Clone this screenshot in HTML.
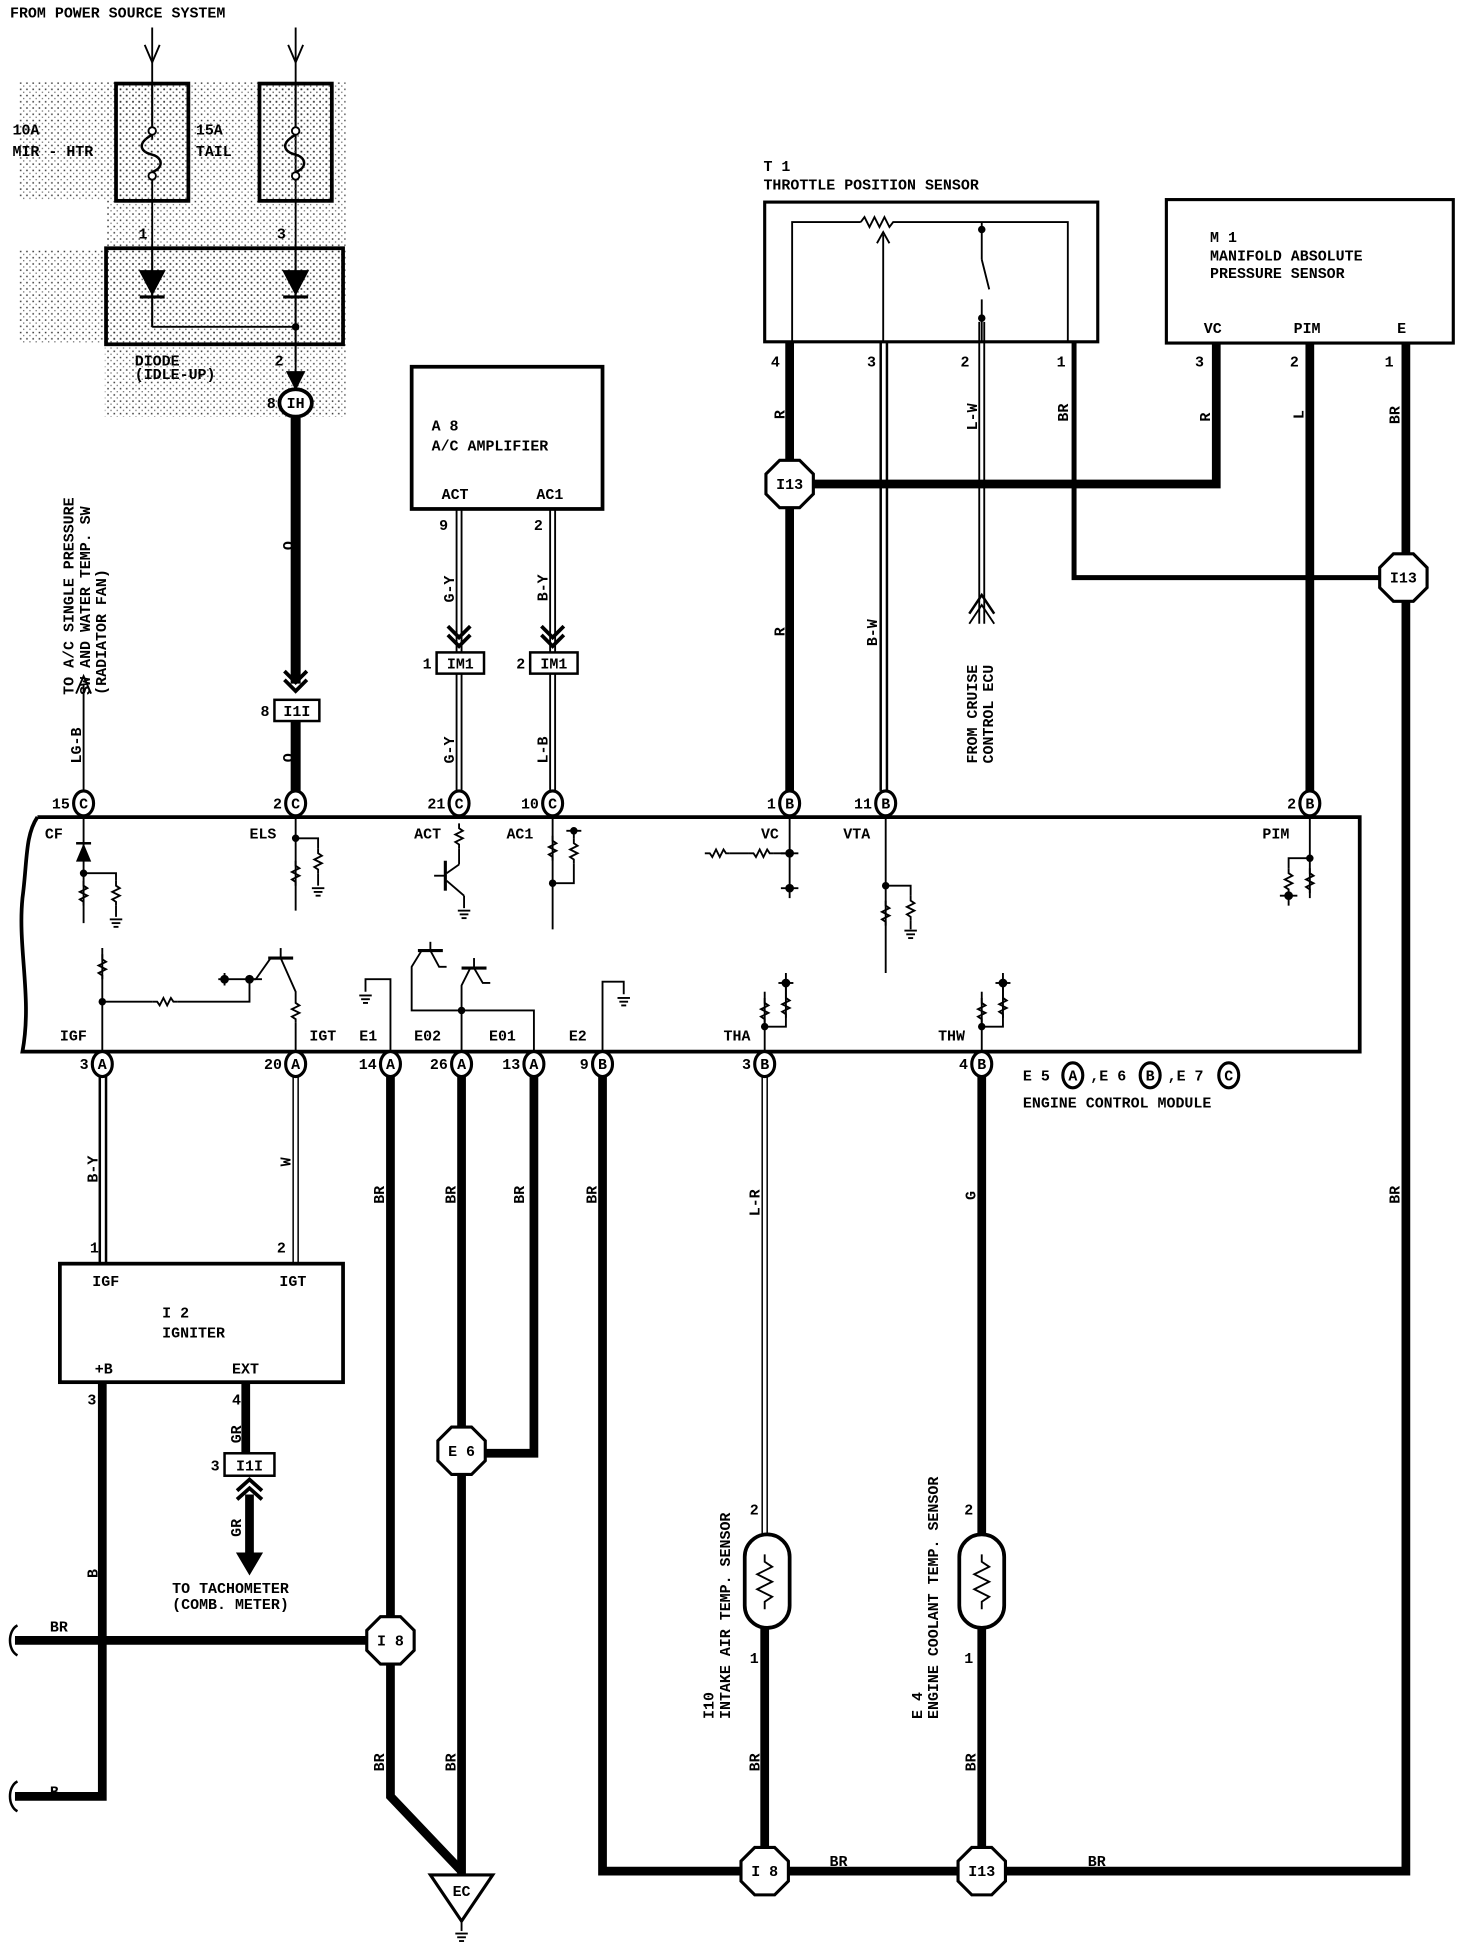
<!DOCTYPE html>
<html><head><meta charset="utf-8"><style>
html,body{margin:0;padding:0;background:#fff}
svg{display:block}
text{font-family:"Liberation Mono","DejaVu Sans Mono",monospace;font-weight:bold;font-size:12px;fill:#000}
</style></head><body>
<svg width="1472" height="1956" viewBox="0 0 1180 1568" xmlns="http://www.w3.org/2000/svg">
<defs>
<pattern id="dots" width="5" height="5" patternUnits="userSpaceOnUse"><rect x="1" y="1" width="1.2" height="1.2" fill="#333"/><rect x="3.5" y="3.5" width="1" height="1" fill="#666"/></pattern>
<path id="rv" d="M0,0 v4 l3,2 l-6,3 l6,3 l-6,3 l3,2 v3" fill="none" stroke="#000" stroke-width="1.5"/>
<path id="rh" d="M0,0 h4 l2,3 l3,-6 l3,6 l3,-6 l2,3 h3" fill="none" stroke="#000" stroke-width="1.5"/>
<g id="gnd" stroke="#000" stroke-width="1.5"><line x1="-5" y1="0" x2="5" y2="0"/><line x1="-3.5" y1="3" x2="3.5" y2="3"/><line x1="-2" y1="6" x2="2" y2="6"/></g>
</defs>
<g fill="none" stroke="#000">
<rect x="15" y="66" width="262" height="268" fill="url(#dots)" stroke="none"/>
<rect x="0" y="160" width="85" height="40" fill="#fff" stroke="none"/>
<rect x="0" y="275" width="84" height="60" fill="#fff" stroke="none"/>
<line x1="122" y1="22" x2="122" y2="112" stroke-width="1.5"/><polyline points="116,36 122,50 128,36" stroke-width="1.5"/>
<line x1="237" y1="22" x2="237" y2="305" stroke-width="1.5"/><polyline points="231,36 237,50 243,36" stroke-width="1.5"/>
<rect x="93" y="67" width="58" height="94" stroke-width="3" fill="url(#dots)"/>
<rect x="208" y="67" width="58" height="94" stroke-width="3" fill="url(#dots)"/>
<line x1="122" y1="67" x2="122" y2="102" stroke-width="1.5"/><line x1="237" y1="67" x2="237" y2="102" stroke-width="1.5"/>
<path d="M122,108 C108,116 114,122 122,124 C130,126 132,134 122,138" stroke-width="2"/>
<path d="M237,108 C223,116 229,122 237,124 C245,126 247,134 237,138" stroke-width="2"/>
<circle cx="122" cy="105" r="3" fill="#fff" stroke-width="1.5"/><circle cx="122" cy="141" r="3" fill="#fff" stroke-width="1.5"/>
<circle cx="237" cy="105" r="3" fill="#fff" stroke-width="1.5"/><circle cx="237" cy="141" r="3" fill="#fff" stroke-width="1.5"/>
<line x1="122" y1="144" x2="122" y2="262" stroke-width="1.5"/>
<rect x="85" y="199" width="190" height="77" stroke-width="3" fill="url(#dots)"/>
<line x1="122" y1="199" x2="122" y2="262" stroke-width="1.5"/><line x1="237" y1="199" x2="237" y2="290" stroke-width="1.5"/>
<polygon points="112,217 132,217 122,236" fill="#000"/><line x1="112" y1="238" x2="132" y2="238" stroke-width="2.5"/>
<polygon points="227,217 247,217 237,236" fill="#000"/><line x1="227" y1="238" x2="247" y2="238" stroke-width="2.5"/>
<polyline points="122,262 237,262" stroke-width="1.5"/><circle cx="237" cy="262" r="2.5" fill="#000"/>
<polygon points="230,298 244,298 237,312" fill="#000"/>
<line x1="237" y1="335" x2="237" y2="548" stroke-width="8"/>
<polyline points="228,538 237,547 246,538" stroke-width="3"/><polyline points="228,545 237,554 246,545" stroke-width="3"/>
<line x1="237" y1="578" x2="237" y2="634" stroke-width="8"/>
<rect x="220" y="561" width="36" height="17" stroke-width="2" fill="#fff"/>
<ellipse cx="237" cy="323" rx="13" ry="11" stroke-width="3" fill="#fff"/>
<line x1="67" y1="634" x2="67" y2="548" stroke-width="1.5"/><polyline points="61,556 67,542 73,556" stroke-width="1.5"/>
<rect x="330" y="294" width="153" height="114" stroke-width="3"/>
<g stroke-width="1.5">
<line x1="366" y1="408" x2="366" y2="523"/><line x1="370" y1="408" x2="370" y2="523"/>
<line x1="366" y1="540" x2="366" y2="634"/><line x1="370" y1="540" x2="370" y2="634"/>
<line x1="441" y1="408" x2="441" y2="523"/><line x1="445" y1="408" x2="445" y2="523"/>
<line x1="441" y1="540" x2="441" y2="634"/><line x1="445" y1="540" x2="445" y2="634"/>
</g>
<polyline points="359,502 368,511 377,502" stroke-width="3"/><polyline points="359,509 368,518 377,509" stroke-width="3"/>
<polyline points="434,502 443,511 452,502" stroke-width="3"/><polyline points="434,509 443,518 452,509" stroke-width="3"/>
<rect x="350" y="523" width="38" height="17" stroke-width="2" fill="#fff"/>
<rect x="425" y="523" width="38" height="17" stroke-width="2" fill="#fff"/>
<rect x="613" y="162" width="267" height="112" stroke-width="2.5"/>
<g stroke-width="1.5">
<polyline points="635,274 635,178 690,178"/>
<path d="M690,178 l3,-4 l4,8 l4,-8 l4,8 l4,-8 l4,8 l3,-4 h140 v96"/>
<line x1="787" y1="178" x2="787" y2="208"/><line x1="787" y1="208" x2="793" y2="232"/><line x1="787" y1="240" x2="787" y2="274"/>
<line x1="708" y1="274" x2="708" y2="188"/><polyline points="703,195 708,186 713,195"/>
</g>
<circle cx="787" cy="184" r="2.5" fill="#000"/><circle cx="787" cy="255" r="2.5" fill="#000"/>
<line x1="633" y1="274" x2="633" y2="634" stroke-width="7"/>
<line x1="706" y1="274" x2="706" y2="634" stroke-width="2"/><line x1="711" y1="274" x2="711" y2="634" stroke-width="2"/>
<line x1="785" y1="258" x2="785" y2="500" stroke-width="1.5"/><line x1="789" y1="258" x2="789" y2="500" stroke-width="1.5"/>
<polyline points="777,492 787,477 797,492" stroke-width="2"/><polyline points="777,500 787,485 797,500" stroke-width="1.5"/>
<polyline points="861,274 861,463 1110,463" stroke-width="4"/>
<polyline points="633,388 975,388 975,275" stroke-width="7"/>
<rect x="935" y="160" width="230" height="115" stroke-width="2.5"/>
<line x1="1050" y1="275" x2="1050" y2="634" stroke-width="7"/>
<polyline points="1127,275 1127,1500 483,1500 483,863" stroke-width="7"/>
<path d="M30,655 H1090 V843 H18 C26,800 14,760 18,720 C22,690 20,670 30,655" stroke-width="3"/>
<g stroke-width="1.5">
<line x1="67" y1="655" x2="67" y2="740"/><polygon points="62,690 72,690 67,678" fill="#000"/><line x1="61" y1="676" x2="73" y2="676" stroke-width="2"/>
<polyline points="67,700 93,700 93,706"/>
<use href="#rv" x="67" y="706"/><use href="#rv" x="93" y="706"/><line x1="93" y1="726" x2="93" y2="735"/><use href="#gnd" x="93" y="737"/>
<line x1="237" y1="655" x2="237" y2="730"/><polyline points="237,672 255,672 255,680"/>
<use href="#rv" x="237" y="690"/><use href="#rv" x="255" y="680"/><line x1="255" y1="700" x2="255" y2="710"/><use href="#gnd" x="255" y="712"/>
<use href="#rv" x="368" y="660"/><line x1="368" y1="680" x2="368" y2="693"/><line x1="368" y1="693" x2="358" y2="700"/>
<line x1="357" y1="690" x2="357" y2="714" stroke-width="2.5"/><line x1="348" y1="702" x2="357" y2="702"/>
<line x1="358" y1="706" x2="372" y2="718"/><line x1="372" y1="718" x2="372" y2="728"/><use href="#gnd" x="372" y="730"/>
<line x1="443" y1="655" x2="443" y2="745"/><use href="#rv" x="443" y="670"/><use href="#rv" x="460" y="672"/>
<line x1="460" y1="665" x2="460" y2="672"/><polyline points="443,708 460,708 460,692"/><line x1="454" y1="666" x2="466" y2="666"/>
<line x1="633" y1="655" x2="633" y2="720"/><use href="#rh" x="565" y="684"/><use href="#rh" x="600" y="684"/><line x1="585" y1="684" x2="600" y2="684"/><line x1="620" y1="684" x2="633" y2="684"/>
<line x1="626" y1="712" x2="640" y2="712"/><line x1="626" y1="684" x2="640" y2="684"/>
<line x1="710" y1="655" x2="710" y2="780"/><polyline points="710,710 730,710 730,718"/>
<use href="#rv" x="710" y="722"/><use href="#rv" x="730" y="718"/><line x1="730" y1="738" x2="730" y2="745"/><use href="#gnd" x="730" y="746"/>
<line x1="1050" y1="655" x2="1050" y2="720"/><polyline points="1050,688 1033,688 1033,696"/>
<use href="#rv" x="1033" y="696"/><use href="#rv" x="1050" y="696"/><line x1="1026" y1="718" x2="1040" y2="718"/><line x1="1033" y1="716" x2="1033" y2="726"/>
<line x1="82" y1="843" x2="82" y2="760"/><use href="#rv" x="82" y="765"/><polyline points="82,803 200,803 200,785"/>
<rect x="122" y="801" width="20" height="4" fill="#fff" stroke="none"/><use href="#rh" x="122" y="803"/>
<line x1="175" y1="785" x2="210" y2="785"/><line x1="180" y1="780" x2="180" y2="790"/><line x1="200" y1="785" x2="205" y2="785"/>
<line x1="205" y1="785" x2="217" y2="768"/><line x1="215" y1="768" x2="235" y2="768" stroke-width="2.5"/><line x1="225" y1="760" x2="225" y2="768"/>
<polyline points="225,768 237,795 237,800"/><use href="#rv" x="237" y="800"/><line x1="237" y1="820" x2="237" y2="843"/>
<polyline points="313,843 313,785 293,785 293,795"/><use href="#gnd" x="293" y="798"/>
<polyline points="370,843 370,810 330,810 330,775 338,762"/><polyline points="370,810 428,810 428,843"/>
<line x1="335" y1="762" x2="355" y2="762" stroke-width="2.5"/><line x1="345" y1="755" x2="345" y2="762"/><polyline points="345,762 352,775 358,775"/>
<polyline points="370,810 370,790 377,776"/><line x1="370" y1="776" x2="390" y2="776" stroke-width="2.5"/><line x1="380" y1="768" x2="380" y2="776"/><polyline points="380,776 387,788 393,788"/>
<polyline points="483,843 483,787 500,787 500,797"/><use href="#gnd" x="500" y="800"/>
<line x1="613" y1="843" x2="613" y2="795"/><polyline points="613,823 630,823 630,790"/><use href="#rv" x="613" y="800"/><use href="#rv" x="630" y="796"/>
<line x1="624" y1="788" x2="636" y2="788"/><line x1="630" y1="780" x2="630" y2="796"/>
<line x1="787" y1="843" x2="787" y2="795"/><polyline points="787,823 804,823 804,790"/><use href="#rv" x="787" y="800"/><use href="#rv" x="804" y="796"/>
<line x1="798" y1="788" x2="810" y2="788"/><line x1="804" y1="780" x2="804" y2="796"/>
</g>
<g fill="#000"><circle cx="67" cy="700" r="2.5"/><circle cx="237" cy="672" r="2.5"/><circle cx="443" cy="708" r="2.5"/><circle cx="460" cy="666" r="2.5"/><circle cx="633" cy="684" r="3"/><circle cx="633" cy="712" r="3"/><circle cx="710" cy="710" r="2.5"/><circle cx="1050" cy="688" r="2.5"/><circle cx="1033" cy="718" r="3"/><circle cx="82" cy="803" r="2.5"/><circle cx="180" cy="785" r="3"/><circle cx="200" cy="785" r="3"/><circle cx="370" cy="810" r="2.5"/><circle cx="613" cy="823" r="2.5"/><circle cx="630" cy="788" r="3"/><circle cx="787" cy="823" r="2.5"/><circle cx="804" cy="788" r="3"/></g>
<line x1="80" y1="863" x2="80" y2="1013" stroke-width="2"/><line x1="85" y1="863" x2="85" y2="1013" stroke-width="2"/>
<line x1="235" y1="863" x2="235" y2="1013" stroke-width="1.2"/><line x1="239" y1="863" x2="239" y2="1013" stroke-width="1.2"/>
<rect x="48" y="1013" width="227" height="95" stroke-width="3"/>
<polyline points="82,1108 82,1440 12,1440" stroke-width="7"/>
<line x1="12" y1="1315" x2="296" y2="1315" stroke-width="7"/>
<path d="M14,1428 C6,1432 6,1448 14,1452" stroke-width="2"/><path d="M14,1303 C6,1307 6,1323 14,1327" stroke-width="2"/>
<line x1="197" y1="1108" x2="197" y2="1165" stroke-width="7"/>
<rect x="180" y="1165" width="40" height="18" stroke-width="2" fill="#fff"/>
<polyline points="190,1195 200,1186 210,1195" stroke-width="3"/><polyline points="190,1202 200,1193 210,1202" stroke-width="3"/>
<line x1="200" y1="1198" x2="200" y2="1248" stroke-width="7"/><polygon points="190,1245 210,1245 200,1262" fill="#000"/>
<polyline points="313,863 313,1440 370,1500" stroke-width="7"/>
<line x1="370" y1="863" x2="370" y2="1503" stroke-width="7"/>
<polyline points="428,863 428,1165 370,1165" stroke-width="7"/>
<polygon points="345,1503 395,1503 370,1540" stroke-width="2.5" fill="#fff"/>
<line x1="370" y1="1540" x2="370" y2="1548" stroke-width="1.5"/><use href="#gnd" x="370" y="1550"/>
<line x1="611" y1="863" x2="611" y2="1230" stroke-width="1.2"/><line x1="615" y1="863" x2="615" y2="1230" stroke-width="1.2"/>
<line x1="613" y1="1305" x2="613" y2="1500" stroke-width="7"/>
<rect x="597" y="1230" width="36" height="75" rx="18" stroke-width="3" fill="#fff"/>
<path d="M613,1246 v6 l6,4 l-12,6 l12,6 l-12,6 l12,6 l-6,4 v6" stroke-width="1.5"/>
<line x1="787" y1="863" x2="787" y2="1500" stroke-width="7"/>
<rect x="769" y="1230" width="36" height="75" rx="18" stroke-width="3" fill="#fff"/>
<path d="M787,1246 v6 l6,4 l-12,6 l12,6 l-12,6 l12,6 l-6,4 v6" stroke-width="1.5"/>
</g>
<g stroke="#000" stroke-width="2.5" fill="#fff">
<polygon points="-8,-19 8,-19 19,-8 19,8 8,19 -8,19 -19,8 -19,-8" transform="translate(633,388)"/>
<polygon points="-8,-19 8,-19 19,-8 19,8 8,19 -8,19 -19,8 -19,-8" transform="translate(1125,463)"/>
<polygon points="-8,-19 8,-19 19,-8 19,8 8,19 -8,19 -19,8 -19,-8" transform="translate(313,1315)"/>
<polygon points="-8,-19 8,-19 19,-8 19,8 8,19 -8,19 -19,8 -19,-8" transform="translate(370,1163)"/>
<polygon points="-8,-19 8,-19 19,-8 19,8 8,19 -8,19 -19,8 -19,-8" transform="translate(613,1500)"/>
<polygon points="-8,-19 8,-19 19,-8 19,8 8,19 -8,19 -19,8 -19,-8" transform="translate(787,1500)"/>
</g>
<g stroke="#000" stroke-width="2.5" fill="#fff">
<ellipse cx="67" cy="644" rx="8" ry="10"/><ellipse cx="237" cy="644" rx="8" ry="10"/><ellipse cx="368" cy="644" rx="8" ry="10"/><ellipse cx="443" cy="644" rx="8" ry="10"/><ellipse cx="633" cy="644" rx="8" ry="10"/><ellipse cx="710" cy="644" rx="8" ry="10"/><ellipse cx="1050" cy="644" rx="8" ry="10"/>
<ellipse cx="82" cy="853" rx="8" ry="10"/><ellipse cx="237" cy="853" rx="8" ry="10"/><ellipse cx="313" cy="853" rx="8" ry="10"/><ellipse cx="370" cy="853" rx="8" ry="10"/><ellipse cx="428" cy="853" rx="8" ry="10"/><ellipse cx="483" cy="853" rx="8" ry="10"/><ellipse cx="613" cy="853" rx="8" ry="10"/><ellipse cx="787" cy="853" rx="8" ry="10"/>
<ellipse cx="860" cy="862" rx="8" ry="10"/><ellipse cx="922" cy="862" rx="8" ry="10"/><ellipse cx="985" cy="862" rx="8" ry="10"/>
</g>
<g font-size="11" text-anchor="middle">
<text x="67" y="648">C</text><text x="237" y="648">C</text><text x="368" y="648">C</text><text x="443" y="648">C</text><text x="633" y="648">B</text><text x="710" y="648">B</text><text x="1050" y="648">B</text>
<text x="82" y="857">A</text><text x="237" y="857">A</text><text x="313" y="857">A</text><text x="370" y="857">A</text><text x="428" y="857">A</text><text x="483" y="857">B</text><text x="613" y="857">B</text><text x="787" y="857">B</text>
<text x="860" y="866">A</text><text x="922" y="866">B</text><text x="985" y="866">C</text>
<text x="237" y="327" font-size="12">IH</text>
<text x="238" y="574">I1I</text><text x="369" y="536">IM1</text><text x="444" y="536">IM1</text><text x="200" y="1179">I1I</text>
<text x="633" y="392">I13</text><text x="1125" y="467">I13</text><text x="313" y="1319">I 8</text><text x="370" y="1167">E 6</text><text x="613" y="1504">I 8</text><text x="787" y="1504">I13</text>
<text x="370" y="1520">EC</text>
</g>
<g font-size="12" text-anchor="end">
<text x="56" y="648">15</text><text x="226" y="648">2</text><text x="357" y="648">21</text><text x="432" y="648">10</text><text x="622" y="648">1</text><text x="699" y="648">11</text><text x="1039" y="648">2</text>
<text x="71" y="857">3</text><text x="226" y="857">20</text><text x="302" y="857">14</text><text x="359" y="857">26</text><text x="417" y="857">13</text><text x="472" y="857">9</text><text x="602" y="857">3</text><text x="776" y="857">4</text>
<text x="221" y="327">8</text><text x="216" y="574">8</text><text x="346" y="536">1</text><text x="421" y="536">2</text><text x="176" y="1179">3</text>
</g>
<g font-size="12">
<text x="8" y="14">FROM POWER SOURCE SYSTEM</text>
<text x="10" y="108">10A</text><text x="10" y="125">MIR - HTR</text>
<text x="157" y="108">15A</text><text x="157" y="125">TAIL</text>
<text x="111" y="191">1</text><text x="222" y="191">3</text><text x="220" y="293">2</text>
<text x="108" y="293">DIODE</text><text x="108" y="304">(IDLE-UP)</text>
<text x="346" y="345">A 8</text><text x="346" y="361">A/C AMPLIFIER</text>
<text x="354" y="400">ACT</text><text x="430" y="400">AC1</text>
<text x="352" y="425">9</text><text x="428" y="425">2</text>
<text x="612" y="137">T 1</text><text x="612" y="152">THROTTLE POSITION SENSOR</text>
<text x="618" y="294">4</text><text x="695" y="294">3</text><text x="770" y="294">2</text><text x="847" y="294">1</text>
<text x="970" y="194">M 1</text><text x="970" y="209">MANIFOLD ABSOLUTE</text><text x="970" y="223">PRESSURE SENSOR</text>
<text x="965" y="267">VC</text><text x="1037" y="267">PIM</text><text x="1120" y="267">E</text>
<text x="958" y="294">3</text><text x="1034" y="294">2</text><text x="1110" y="294">1</text>
<text x="36" y="672">CF</text><text x="200" y="672">ELS</text><text x="332" y="672">ACT</text><text x="406" y="672">AC1</text><text x="610" y="672">VC</text><text x="676" y="672">VTA</text><text x="1012" y="672">PIM</text>
<text x="48" y="834">IGF</text><text x="248" y="834">IGT</text><text x="288" y="834">E1</text><text x="332" y="834">E02</text><text x="392" y="834">E01</text><text x="456" y="834">E2</text><text x="580" y="834">THA</text><text x="752" y="834">THW</text>
<text x="820" y="866">E 5</text><text x="874" y="866">,E 6</text><text x="936" y="866">,E 7</text>
<text x="820" y="888">ENGINE CONTROL MODULE</text>
<text x="72" y="1004">1</text><text x="222" y="1004">2</text>
<text x="74" y="1031">IGF</text><text x="224" y="1031">IGT</text>
<text x="130" y="1056">I 2</text><text x="130" y="1072">IGNITER</text>
<text x="76" y="1101">+B</text><text x="186" y="1101">EXT</text>
<text x="70" y="1126">3</text><text x="186" y="1126">4</text>
<text x="138" y="1277">TO TACHOMETER</text><text x="138" y="1290">(COMB. METER)</text>
<text x="40" y="1308">BR</text><text x="40" y="1440">B</text>
<text x="665" y="1496">BR</text><text x="872" y="1496">BR</text>
<text x="601" y="1214">2</text><text x="601" y="1333">1</text><text x="773" y="1214">2</text><text x="773" y="1333">1</text>
</g>
<g font-size="11">
<text transform="translate(235,441) rotate(-90)">O</text>
<text transform="translate(235,611) rotate(-90)">O</text>
<text transform="translate(65,612) rotate(-90)">LG-B</text>
<text transform="translate(364,483) rotate(-90)">G-Y</text>
<text transform="translate(364,612) rotate(-90)">G-Y</text>
<text transform="translate(439,482) rotate(-90)">B-Y</text>
<text transform="translate(439,612) rotate(-90)">L-B</text>
<text transform="translate(629,336) rotate(-90)">R</text>
<text transform="translate(629,510) rotate(-90)">R</text>
<text transform="translate(703,518) rotate(-90)">B-W</text>
<text transform="translate(783,345) rotate(-90)">L-W</text>
<text transform="translate(856,338) rotate(-90)">BR</text>
<text transform="translate(970,338) rotate(-90)">R</text>
<text transform="translate(1045,336) rotate(-90)">L</text>
<text transform="translate(1122,340) rotate(-90)">BR</text>
<text transform="translate(1122,965) rotate(-90)">BR</text>
<text transform="translate(78,948) rotate(-90)">B-Y</text>
<text transform="translate(233,935) rotate(-90)">W</text>
<text transform="translate(308,965) rotate(-90)">BR</text>
<text transform="translate(365,965) rotate(-90)">BR</text>
<text transform="translate(420,965) rotate(-90)">BR</text>
<text transform="translate(478,965) rotate(-90)">BR</text>
<text transform="translate(609,975) rotate(-90)">L-R</text>
<text transform="translate(782,962) rotate(-90)">G</text>
<text transform="translate(78,1265) rotate(-90)">B</text>
<text transform="translate(193,1157) rotate(-90)">GR</text>
<text transform="translate(193,1232) rotate(-90)">GR</text>
<text transform="translate(308,1420) rotate(-90)">BR</text>
<text transform="translate(365,1420) rotate(-90)">BR</text>
<text transform="translate(609,1420) rotate(-90)">BR</text>
<text transform="translate(782,1420) rotate(-90)">BR</text>
<text transform="translate(59,557) rotate(-90)">TO A/C SINGLE PRESSURE</text>
<text transform="translate(72,557) rotate(-90)">SW AND WATER TEMP. SW</text>
<text transform="translate(85,557) rotate(-90)">(RADIATOR FAN)</text>
<text transform="translate(783,612) rotate(-90)">FROM CRUISE</text>
<text transform="translate(796,612) rotate(-90)">CONTROL ECU</text>
<text transform="translate(572,1378) rotate(-90)">I10</text>
<text transform="translate(585,1378) rotate(-90)">INTAKE AIR TEMP. SENSOR</text>
<text transform="translate(739,1378) rotate(-90)">E 4</text>
<text transform="translate(752,1378) rotate(-90)">ENGINE COOLANT TEMP. SENSOR</text>
</g>
</svg>
</body></html>
